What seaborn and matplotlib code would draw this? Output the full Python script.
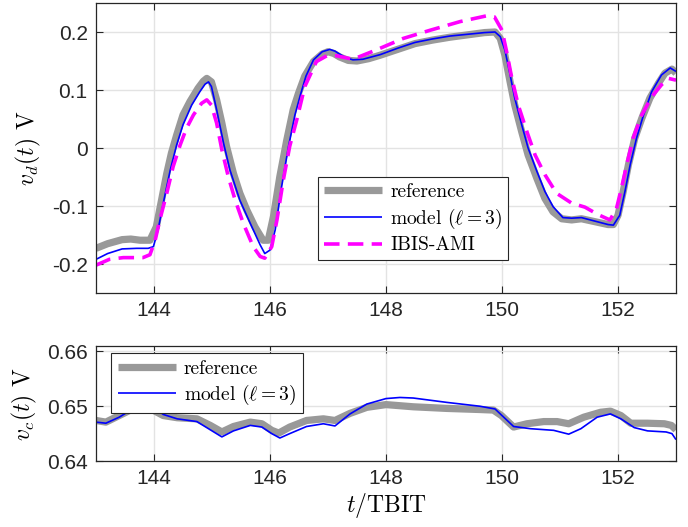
import matplotlib
matplotlib.use("Agg")
import matplotlib.pyplot as plt
import seaborn as sns

# top panel: differential voltage v_d(t)
t_ref_d = [143.0, 143.2, 143.45, 143.6, 143.76, 143.93, 144.04, 144.13, 144.22, 144.3,
           144.39, 144.5, 144.62, 144.76, 144.85, 144.91, 144.99, 145.08, 145.17, 145.25,
           145.37, 145.48, 145.6, 145.74, 145.88, 145.97, 146.06, 146.17, 146.29, 146.4,
           146.49, 146.6, 146.75, 146.9, 147.0, 147.1, 147.2, 147.35, 147.5, 147.7,
           147.9, 148.2, 148.5, 148.8, 149.1, 149.4, 149.7, 149.88, 149.97, 150.05,
           150.14, 150.22, 150.34, 150.45, 150.6, 150.74, 150.88, 151.03, 151.2, 151.37,
           151.6, 151.83, 151.92, 152.0, 152.09, 152.18, 152.29, 152.41, 152.55, 152.7,
           152.81, 152.93, 153.0]
v_ref_d = [-0.173, -0.165, -0.158, -0.157, -0.159, -0.159, -0.136, -0.090, -0.044, -0.009,
           0.022, 0.057, 0.080, 0.103, 0.115, 0.120, 0.114, 0.083, 0.043, 0.003,
           -0.044, -0.078, -0.107, -0.136, -0.159, -0.159, -0.118, -0.049, 0.014, 0.066,
           0.094, 0.124, 0.149, 0.162, 0.166, 0.163, 0.157, 0.151, 0.150, 0.154,
           0.160, 0.170, 0.180, 0.186, 0.191, 0.195, 0.199, 0.200, 0.189, 0.160,
           0.114, 0.074, 0.028, -0.012, -0.052, -0.087, -0.110, -0.122, -0.124, -0.122,
           -0.127, -0.132, -0.132, -0.116, -0.075, -0.029, 0.017, 0.051, 0.086, 0.112,
           0.129, 0.136, 0.129]

t_mod_d = [143.0, 143.2, 143.45, 143.7, 143.9, 143.99, 144.07, 144.16, 144.28, 144.39,
           144.5, 144.65, 144.79, 144.88, 144.94, 144.99, 145.08, 145.2, 145.31, 145.48,
           145.66, 145.83, 145.91, 146.0, 146.09, 146.2, 146.32, 146.43, 146.52, 146.62,
           146.75, 146.9, 147.03, 147.12, 147.2, 147.3, 147.43, 147.6, 147.9, 148.2,
           148.5, 148.8, 149.1, 149.4, 149.7, 149.88, 149.97, 150.05, 150.14, 150.22,
           150.34, 150.45, 150.6, 150.74, 150.88, 151.05, 151.2, 151.37, 151.6, 151.83,
           151.92, 152.03, 152.12, 152.21, 152.32, 152.44, 152.58, 152.75, 152.9, 153.0]
v_mod_d = [-0.192, -0.182, -0.174, -0.173, -0.173, -0.170, -0.141, -0.095, -0.038, 0.005,
           0.040, 0.074, 0.097, 0.110, 0.114, 0.106, 0.066, 0.008, -0.038, -0.090,
           -0.130, -0.167, -0.182, -0.176, -0.141, -0.067, 0.003, 0.057, 0.090, 0.124,
           0.152, 0.166, 0.170, 0.167, 0.162, 0.156, 0.152, 0.153, 0.161, 0.172,
           0.182, 0.188, 0.193, 0.196, 0.199, 0.200, 0.192, 0.169, 0.126, 0.086,
           0.040, 0.000, -0.040, -0.075, -0.101, -0.120, -0.121, -0.120, -0.126, -0.132,
           -0.133, -0.116, -0.075, -0.029, 0.017, 0.057, 0.097, 0.126, 0.138, 0.132]

t_ami_d = [143.0, 143.23, 143.47, 143.81, 143.93, 144.02, 144.1, 144.22, 144.33, 144.45,
           144.56, 144.68, 144.82, 144.91, 144.99, 145.08, 145.17, 145.28, 145.4, 145.54,
           145.71, 145.83, 145.91, 146.03, 146.12, 146.23, 146.34, 146.46, 146.6, 146.8,
           146.98, 147.15, 147.43, 147.83, 148.3, 148.76, 149.28, 149.74, 149.87, 150.0,
           150.08, 150.17, 150.28, 150.43, 150.57, 150.74, 150.94, 151.2, 151.43, 151.66,
           151.86, 151.97, 152.06, 152.15, 152.26, 152.41, 152.58, 152.75, 152.87, 153.0]
v_ami_d = [-0.202, -0.192, -0.189, -0.189, -0.184, -0.159, -0.124, -0.078, -0.032, 0.005,
           0.034, 0.057, 0.077, 0.083, 0.074, 0.043, -0.003, -0.049, -0.090, -0.130,
           -0.170, -0.187, -0.190, -0.170, -0.124, -0.055, 0.003, 0.048, 0.106, 0.149,
           0.159, 0.159, 0.153, 0.169, 0.189, 0.203, 0.218, 0.228, 0.226, 0.203,
           0.166, 0.120, 0.074, 0.028, -0.012, -0.046, -0.078, -0.095, -0.102, -0.115,
           -0.124, -0.106, -0.069, -0.029, 0.017, 0.057, 0.088, 0.109, 0.120, 0.117]

# bottom panel: common-mode voltage v_c(t)
t_ref_c = [143.0, 143.17, 143.4, 143.63, 143.8, 144.0, 144.16, 144.4, 144.74, 144.97,
           145.17, 145.37, 145.66, 145.86, 146.03, 146.15, 146.34, 146.63, 146.92, 147.12,
           147.38, 147.67, 148.0, 148.47, 149.05, 149.62, 149.85, 149.99, 150.2, 150.43,
           150.72, 150.95, 151.15, 151.41, 151.7, 151.87, 152.05, 152.22, 152.51, 152.8,
           152.92, 153.0]
v_ref_c = [0.6474, 0.6471, 0.6483, 0.6495, 0.6498, 0.6492, 0.6483, 0.6479, 0.6477, 0.6465,
           0.6453, 0.6463, 0.6471, 0.6468, 0.6456, 0.6451, 0.6462, 0.6474, 0.6477, 0.6474,
           0.6487, 0.6498, 0.6503, 0.6499, 0.6496, 0.6494, 0.6493, 0.6483, 0.6462, 0.6468,
           0.6472, 0.6472, 0.6468, 0.6480, 0.6489, 0.6491, 0.6483, 0.6469, 0.6469, 0.6468,
           0.6465, 0.6457]

t_mod_c = [143.0, 143.17, 143.4, 143.63, 143.8, 144.0, 144.16, 144.4, 144.74, 144.97,
           145.17, 145.37, 145.66, 145.86, 146.03, 146.17, 146.34, 146.63, 146.92, 147.12,
           147.38, 147.67, 148.0, 148.24, 148.47, 149.05, 149.62, 149.88, 150.03, 150.2,
           150.49, 150.89, 151.15, 151.36, 151.64, 151.87, 152.05, 152.28, 152.51, 152.83,
           152.93, 153.0]
v_mod_c = [0.6471, 0.6469, 0.6480, 0.6495, 0.6501, 0.6498, 0.6485, 0.6477, 0.6472, 0.6457,
           0.6444, 0.6455, 0.6465, 0.6462, 0.6450, 0.6442, 0.6450, 0.6463, 0.6468, 0.6464,
           0.6486, 0.6504, 0.6514, 0.6516, 0.6515, 0.6507, 0.6500, 0.6495, 0.6480, 0.6463,
           0.6459, 0.6456, 0.6449, 0.6459, 0.6480, 0.6486, 0.6477, 0.6461, 0.6455, 0.6453,
           0.6450, 0.6439]

x_ticks = [144, 146, 148, 150, 152]

plt.rcParams['mathtext.fontset'] = 'cm'
plt.rcParams['font.family'] = ['Liberation Sans', 'DejaVu Sans']
plt.rcParams['axes.unicode_minus'] = False

fig = plt.figure(figsize=(6.88, 5.27), dpi=100)
ax1 = fig.add_axes([96 / 688, 1 - 293 / 527, 580 / 688, 290 / 527])
ax2 = fig.add_axes([96 / 688, 1 - 461 / 527, 580 / 688, 115 / 527])

gray = '#999999'
blue = '#0000ff'
mag = '#ff00ff'
serif = {'family': 'cmr10', 'size': 14}
dash = (4.3, 2.3)

sns.lineplot(x=t_ref_d, y=v_ref_d, ax=ax1, color=gray, lw=5.2, label='reference',
             estimator=None, sort=False)
sns.lineplot(x=t_mod_d, y=v_mod_d, ax=ax1, color=blue, lw=1.2, label=r'model ($\ell=3$)',
             estimator=None, sort=False)
sns.lineplot(x=t_ami_d, y=v_ami_d, ax=ax1, color=mag, lw=2.6, label='IBIS-AMI',
             estimator=None, sort=False)

sns.lineplot(x=t_ref_c, y=v_ref_c, ax=ax2, color=gray, lw=5.2, label='reference',
             estimator=None, sort=False)
sns.lineplot(x=t_mod_c, y=v_mod_c, ax=ax2, color=blue, lw=1.2, label=r'model ($\ell=3$)',
             estimator=None, sort=False)

for ax in (ax1, ax2):
    ax.set_xlim(143, 153)
    ax.set_xticks(x_ticks)
    ax.grid(True, color='#e3e3e3', lw=1)
    ax.set_axisbelow(True)
    ax.tick_params(direction='in', top=True, right=True, length=5, width=0.8,
                   labelsize=15, colors='#262626', pad=6)
    for s in ax.spines.values():
        s.set_color('#262626')
        s.set_linewidth(0.9)
    for ln in ax.lines:
        ln.set_solid_capstyle('butt')
        ln.set_solid_joinstyle('round')
        ln.set_dash_joinstyle('round')

ax1.set_ylim(-0.25, 0.25)
ax1.set_yticks([-0.2, -0.1, 0, 0.1, 0.2])
ax1.set_yticklabels(['-0.2', '-0.1', '0', '0.1', '0.2'])
ax1.set_xlabel('')
ax1.set_ylabel(r'$v_d(t)$ V', fontdict={'family': 'cmr10', 'size': 17}, labelpad=6)

ax2.set_ylim(0.64, 0.661)
ax2.set_yticks([0.64, 0.65, 0.66])
ax2.set_yticklabels(['0.64', '0.65', '0.66'])
ax2.set_xlabel(r'$t/\mathrm{TBIT}$', fontsize=17, labelpad=2)
ax2.set_ylabel(r'$v_c(t)$ V', fontdict={'family': 'cmr10', 'size': 17}, labelpad=6)

ax1.lines[2].set_dashes(dash)

leg1 = ax1.legend(loc='upper left', bbox_to_anchor=(0.383, 0.40), borderaxespad=0,
                  prop=serif, fancybox=False, framealpha=1, edgecolor='#262626',
                  handlelength=3.0, handletextpad=0.4, labelspacing=0.3, borderpad=0.3)
leg1.get_frame().set_linewidth(0.8)
leg1.get_lines()[2].set_dashes(dash)

leg2 = ax2.legend(loc='upper left', bbox_to_anchor=(0.026, 0.94), borderaxespad=0,
                  prop=serif, fancybox=False, framealpha=1, edgecolor='#262626',
                  handlelength=3.0, handletextpad=0.4, labelspacing=0.25, borderpad=0.35)
leg2.get_frame().set_linewidth(0.8)

fig.savefig('out.png', dpi=100)
